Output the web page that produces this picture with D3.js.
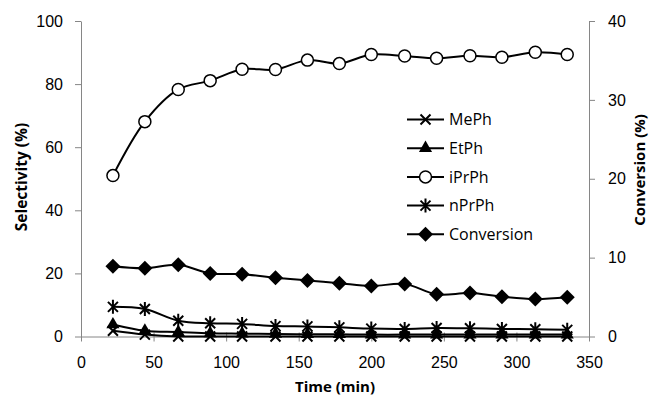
<!DOCTYPE html>
<html>
<head>
  <meta charset="UTF-8">
  <style>
    body { margin: 0; background: #fff; }
    svg { font-family: 'Open Sans', 'Noto Sans', sans-serif; }
    .tick text { font-size: 16px; fill: #000; }
    .axis path, .axis line { stroke: #868686; }
  </style>
</head>
<body>
<svg></svg>
<script src="https://d3js.org/d3.v7.min.js"></script>
<script>
  // ---- data
  const time = [22, 44, 67, 89, 111, 134, 156, 178, 200, 223, 245, 268, 290, 313, 335];
  const mePh = [1.8, 0.6, 0, 0, 0, 0, 0, 0, 0, 0, 0, 0, 0, 0, 0];
  const etPh = [3.8, 1.8, 1.4, 1.0, 0.9, 0.8, 0.7, 0.7, 0.6, 0.6, 0.6, 0.6, 0.6, 0.6, 0.6];
  const iPrPh = [51.0, 68.1, 78.3, 81.1, 84.7, 84.6, 87.6, 86.5, 89.4, 88.9, 88.2, 89.0, 88.5, 90.1, 89.4];
  const nPrPh = [9.4, 8.7, 5.0, 4.2, 4.0, 3.3, 3.2, 2.9, 2.5, 2.4, 2.7, 2.6, 2.4, 2.3, 2.1];
  const conversion = [8.9, 8.65, 9.1, 8.0, 7.9, 7.45, 7.1, 6.75, 6.4, 6.65, 5.35, 5.5, 5.05, 4.75, 4.97];

  const xTicks = [0, 50, 100, 150, 200, 250, 300, 350];
  const yTicks = [0, 20, 40, 60, 80, 100];
  const y2Ticks = [0, 10, 20, 30, 40];

  const width = 651, height = 396;
  const svg = d3.select("svg").attr("width", width).attr("height", height);

  const x = d3.scaleLinear().domain([0, 350]).range([81, 589]);
  const y = d3.scaleLinear().domain([0, 100]).range([336.5, 21]);
  const y2 = d3.scaleLinear().domain([0, 40]).range([336.5, 21]);

  // axes
  svg.append("g").attr("class", "axis")
    .attr("transform", "translate(0," + y(0) + ")")
    .call(d3.axisBottom(x).tickValues(xTicks).tickSize(5).tickSizeOuter(0).tickPadding(15))
    .call(g => g.selectAll(".tick line").attr("y1", -4));

  svg.append("g").attr("class", "axis")
    .attr("transform", "translate(" + x(0) + ",0)")
    .call(d3.axisLeft(y).tickValues(yTicks).tickSize(6).tickSizeOuter(0).tickPadding(12));

  svg.append("g").attr("class", "axis")
    .attr("transform", "translate(" + x(350) + ",0)")
    .call(d3.axisRight(y2).tickValues(y2Ticks).tickSize(6).tickSizeOuter(0).tickPadding(13));

  svg.selectAll(".axis .domain").attr("stroke", "#868686");

  // axis titles
  svg.append("text").attr("x", x(175)).attr("y", 392)
    .attr("text-anchor", "middle").attr("font-weight", "bold").attr("font-size", 15)
    .text("Time (min)");
  svg.append("text").attr("transform", "translate(22,177) rotate(-90)")
    .attr("text-anchor", "middle").attr("dy", "0.35em").attr("font-weight", "bold").attr("font-size", 15.5)
    .text("Selectivity (%)");
  svg.append("text").attr("transform", "translate(640,170) rotate(-90)")
    .attr("text-anchor", "middle").attr("dy", "0.35em").attr("font-weight", "bold").attr("font-size", 15)
    .text("Conversion (%)");

  // marker drawing
  function marker(g, type) {
    if (type === "x") {
      g.append("path").attr("d", "M-5,-5L5,5M-5,5L5,-5")
        .attr("stroke", "#000").attr("stroke-width", 2).attr("fill", "none");
    } else if (type === "tri") {
      g.append("path").attr("d", d3.symbol(d3.symbolTriangle, 75)())
        .attr("fill", "#000");
    } else if (type === "circle") {
      g.append("circle").attr("r", 6).attr("fill", "#fff")
        .attr("stroke", "#000").attr("stroke-width", 1.5);
    } else if (type === "star") {
      g.append("path").attr("d", "M-5,-5L5,5M-5,5L5,-5M0,-7L0,7")
        .attr("stroke", "#000").attr("stroke-width", 2).attr("fill", "none");
    } else if (type === "diamond") {
      g.append("path").attr("d", "M0,-7.5L7.5,0L0,7.5L-7.5,0Z").attr("fill", "#000");
    }
  }

  const series = [
    { name: "MePh", values: mePh, scale: y, type: "x" },
    { name: "EtPh", values: etPh, scale: y, type: "tri" },
    { name: "iPrPh", values: iPrPh, scale: y, type: "circle" },
    { name: "nPrPh", values: nPrPh, scale: y, type: "star" },
    { name: "Conversion", values: conversion, scale: y2, type: "diamond" }
  ];

  series.forEach(s => {
    const pts = time.map((t, i) => [x(t), s.scale(s.values[i])]);
    svg.append("path")
      .attr("d", d3.line().curve(d3.curveCatmullRom.alpha(0.5))(pts))
      .attr("fill", "none").attr("stroke", "#000").attr("stroke-width", 2);
    pts.forEach(p => {
      const g = svg.append("g").attr("transform", "translate(" + p[0] + "," + p[1] + ")");
      marker(g, s.type);
    });
  });

  // legend
  const legend = svg.append("g");
  series.forEach((s, i) => {
    const ly = 119.5 + i * 28.7;
    legend.append("line").attr("x1", 407).attr("x2", 444).attr("y1", ly).attr("y2", ly)
      .attr("stroke", "#000").attr("stroke-width", 2);
    const g = legend.append("g").attr("transform", "translate(425.5," + ly + ")");
    marker(g, s.type);
    legend.append("text").attr("x", 449).attr("y", ly).attr("dy", "0.35em")
      .attr("font-size", 16).text(s.name);
  });
</script>
</body>
</html>
